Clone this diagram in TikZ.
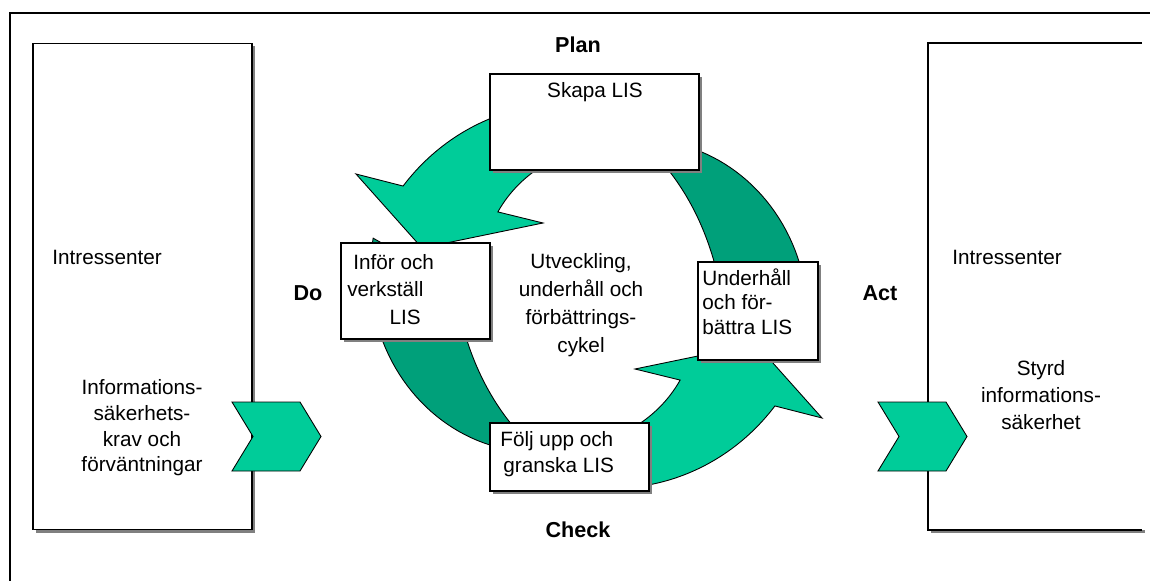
\documentclass[tikz,border=0pt]{standalone}
\usepackage{fontspec}
\setmainfont{Liberation Sans}
\usetikzlibrary{shadows}
\definecolor{cycLight}{RGB}{0,204,153}
\definecolor{cycDark}{RGB}{0,160,122}
\definecolor{boxShadow}{RGB}{128,128,128}

\begin{document}
\begin{tikzpicture}
        % 坐标单位: 1 = 一个像素, y 轴向下
        [x=0.02cm, y=-0.02cm,
        boxNode/.style={rectangle, draw=black, fill=white, line width=0.6pt, inner sep=0pt,
                general shadow={fill=boxShadow, shadow xshift=1.7pt, shadow yshift=-1.7pt}},
        txtNode/.style={font=\fontsize{11.8}{#1}\selectfont, inner sep=0pt},
        txtNode/.default=14.8pt,
        lblNode/.style={font=\bfseries\fontsize{12.3}{14}\selectfont, inner sep=0pt},
        lightArc/.style={fill=cycLight, draw=black, line width=0.5pt},
        darkArc/.style={fill=cycDark, draw=black, line width=0.5pt}]

        \useasboundingbox (0,0) rectangle (1150,581);

        % 外框 (只有上边和左边)
        \draw[line width=1.1pt] (10,581) -- (10,13) -- (1150,13);

        % 左边的大框
        \node[boxNode, minimum width=4.38cm, minimum height=9.74cm] (leftBox) at (142.5,286.5) {};
        % 右边的大框, 右边缘被裁掉
        \fill[white] (928,43) rectangle (1142,530);
        \fill[boxShadow] (931,530) rectangle (1145,533);
        \draw[line width=0.6pt] (1142,43) -- (928,43) -- (928,530) -- (1142,530);

        % 输入和输出箭头
        \foreach \cx in {232,878}
            \draw[lightArc] (\cx,402) -- ++(68,0) -- ++(21,34.5) -- ++(-21,34.5) -- ++(-68,0) -- ++(21,-34.5) -- cycle;

        % 深色弧 (左边一条, 旋转180度得到右边一条), 圆心 (589,296)
        \foreach \rot in {0,180}
            \draw[darkArc, rotate around={\rot:(589,296)}]
                plot[domain=195:118, samples=40, variable=\t]
                    ({589+(180+0.62*(\t-124.8)+0.004*(\t-124.8)*(194.7-\t))*cos(\t)},
                     {296+(180+0.62*(\t-124.8)+0.004*(\t-124.8)*(194.7-\t))*sin(\t)})
                -- plot[domain=115:185, samples=40, variable=\t]
                    ({589+(130-0.518*(\t-158.8)-0.011*(\t-122.1)*(158.8-\t))*cos(\t)},
                     {296+(130-0.518*(\t-158.8)-0.011*(\t-122.1)*(158.8-\t))*sin(\t)})
                -- cycle;

        % 浅色弧形箭头 (上面一条, 旋转180度得到下面一条)
        \foreach \rot in {0,180}
            \draw[lightArc, rotate around={\rot:(589,296)}]
                plot[domain=-100:-149.4, samples=40, variable=\t]
                    ({589+(204-0.427*(\t+121.3))*cos(\t)}, {296+(204-0.427*(\t+121.3))*sin(\t)})
                -- (356,174) -- (422,248) -- (543,223)
                -- plot[domain=-137.3:-100, samples=40, variable=\t]
                    ({589+(124+0.518*(\t+137.3))*cos(\t)}, {296+(124+0.518*(\t+137.3))*sin(\t)})
                -- cycle;

        % 循环上的四个框
        \node[boxNode, minimum width=4.18cm, minimum height=1.92cm] (planBox) at (594.5,122) {};
        \node[boxNode, minimum width=2.98cm, minimum height=1.92cm] (doBox) at (415.5,291) {};
        \node[boxNode, minimum width=2.4cm, minimum height=1.96cm] (actBox) at (758,311) {};
        \node[boxNode, minimum width=3.18cm, minimum height=1.36cm] (checkBox) at (569.5,457) {};

        % 框内文字
        \node[txtNode] (planTxt) at (595,92) {Skapa LIS};
        \node[txtNode=15.6pt, anchor=west, align=left] (doTxt) at (347,289.5)
            {\hspace*{3.4pt}Inför och\\verkställ\\\hspace*{24pt}LIS};
        \node[txtNode=13.9pt, anchor=west, align=left] (actTxt) at (702,301.5)
            {Underhåll\\och för-\\bättra LIS};
        \node[txtNode=14.7pt, anchor=west, align=left] (checkTxt) at (500,454)
            {Följ upp och\\\hspace*{1.7pt}granska LIS};
        \node[txtNode=15.9pt, align=center] (cycTxt) at (581,305)
            {Utveckling,\\underhåll och\\förbättrings-\\cykel};

        % 左右两边的说明文字
        \node[txtNode, anchor=west] (leftIntr) at (52,257) {Intressenter};
        \node[txtNode=14.6pt, align=center] (leftKrav) at (142,428)
            {Informations-\\säkerhets-\\krav och\\förväntningar};
        \node[txtNode, anchor=west] (rightIntr) at (952,257) {Intressenter};
        \node[txtNode=15.3pt, align=center] (rightStyrd) at (1041,395)
            {Styrd\\informations-\\säkerhet};

        % PDCA 标签
        \node[lblNode] (planLbl) at (578,45) {Plan};
        \node[lblNode] (doLbl) at (308,293) {Do};
        \node[lblNode] (checkLbl) at (578,530) {Check};
        \node[lblNode] (actLbl) at (880,293) {Act};
    \end{tikzpicture}
\end{document}
